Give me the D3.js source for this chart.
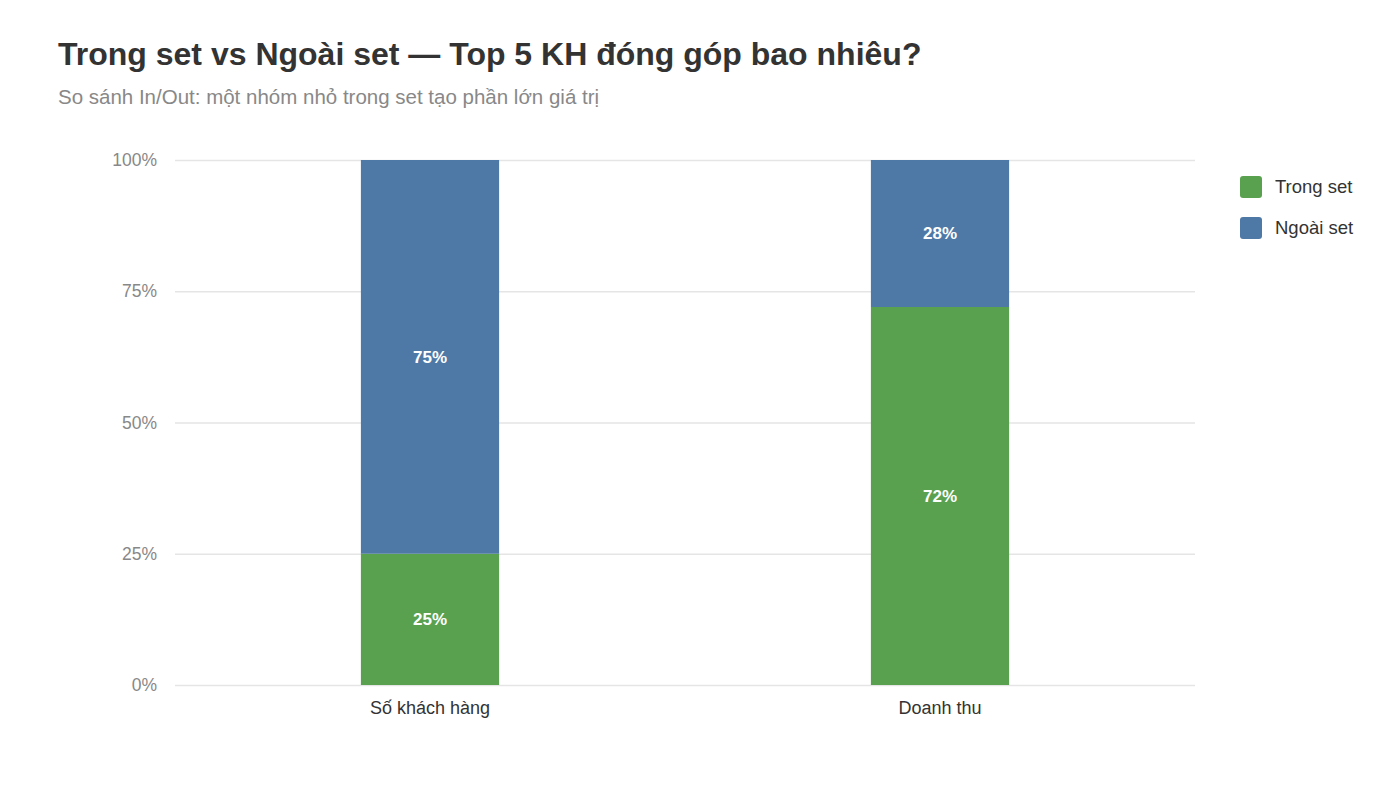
<!DOCTYPE html>
<html>
<head>
<meta charset="utf-8">
<script src="https://cdn.jsdelivr.net/npm/d3@7"></script>
<style>
  html, body { margin: 0; padding: 0; background: #fff; }
  svg { display: block; font-family: "Liberation Sans", Arial, Helvetica, sans-serif; }
</style>
</head>
<body>
<svg id="chart" width="1400" height="787"></svg>
<script>
const categories = ["Số khách hàng", "Doanh thu"];
const seriesNames = ["Trong set", "Ngoài set"];
const trongSet = [25, 72];
const ngoaiSet = [75, 28];
const yTicks = [0, 25, 50, 75, 100];
const colors = ["#59A14F", "#4E79A7"];

const svg = d3.select("#chart");
const margin = { left: 175, right: 205, top: 160, bottom: 102 };
const W = 1400, H = 787;

const x = d3.scaleBand().domain(categories)
  .range([margin.left, W - margin.right])
  .paddingInner(0.729).paddingOuter(0.3645);
const y = d3.scaleLinear().domain([0, 100]).range([H - margin.bottom, margin.top]);

// Title
svg.append("text").attr("x", 58).attr("y", 65)
  .attr("font-size", 32).attr("font-weight", "bold").attr("fill", "#333")
  .text("Trong set vs Ngoài set — Top 5 KH đóng góp bao nhiêu?");
svg.append("text").attr("x", 58).attr("y", 104)
  .attr("font-size", 20.5).attr("fill", "#888")
  .text("So sánh In/Out: một nhóm nhỏ trong set tạo phần lớn giá trị");

// Grid
const yAxis = d3.axisLeft(y).tickValues(yTicks).tickFormat(d => d + "%")
  .tickSize(-(W - margin.left - margin.right)).tickPadding(18);
const gy = svg.append("g").attr("transform", `translate(${margin.left},0)`).call(yAxis);
gy.select(".domain").remove();
gy.selectAll(".tick line").attr("stroke", "#e5e5e5").attr("stroke-width", 1.5);
gy.selectAll(".tick text").attr("fill", "#888").attr("font-size", 17.5)
  .attr("font-family", "\"Liberation Sans\", Arial, sans-serif");

// Stack
const rows = categories.map((c, i) => ({ cat: c, "Trong set": trongSet[i], "Ngoài set": ngoaiSet[i] }));
const stack = d3.stack().keys(seriesNames)(rows);

const layers = svg.append("g").selectAll("g").data(stack).join("g")
  .attr("fill", (d, i) => colors[i]);
layers.selectAll("rect").data(d => d).join("rect")
  .attr("x", d => x(d.data.cat))
  .attr("width", x.bandwidth())
  .attr("y", d => y(d[1]))
  .attr("height", d => y(d[0]) - y(d[1]));

const labels = svg.append("g");
stack.forEach(layer => {
  layer.forEach(d => {
    labels.append("text")
      .attr("x", x(d.data.cat) + x.bandwidth() / 2)
      .attr("y", (y(d[0]) + y(d[1])) / 2)
      .attr("dy", "0.35em")
      .attr("text-anchor", "middle")
      .attr("fill", "#fff").attr("font-weight", "bold").attr("font-size", 17)
      .text((d[1] - d[0]) + "%");
  });
});

// X axis labels
const xAxis = d3.axisBottom(x).tickSize(0).tickPadding(16);
const gx = svg.append("g").attr("transform", `translate(0,${H - margin.bottom})`).call(xAxis);
gx.select(".domain").remove();
gx.selectAll(".tick text").attr("fill", "#333").attr("font-size", 18)
  .attr("font-family", "\"Liberation Sans\", Arial, sans-serif");

// Legend
const legend = svg.append("g").selectAll("g").data(seriesNames).join("g")
  .attr("transform", (d, i) => `translate(1240,${176 + i * 41})`);
legend.append("rect").attr("width", 22).attr("height", 22).attr("rx", 3)
  .attr("fill", (d, i) => colors[i]);
legend.append("text").attr("x", 35).attr("y", 11).attr("dy", "0.35em")
  .attr("font-size", 18.5).attr("fill", "#333").text(d => d);
</script>
</body>
</html>
